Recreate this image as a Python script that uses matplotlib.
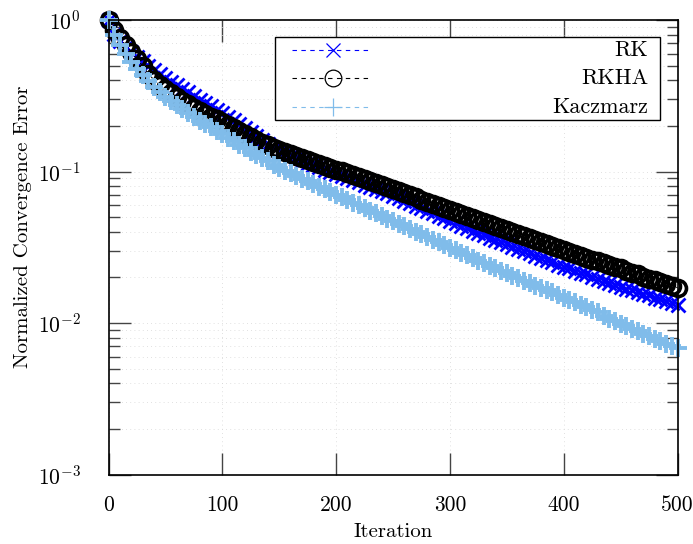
import matplotlib
matplotlib.use("Agg")
import matplotlib.pyplot as plt
from matplotlib.lines import Line2D
from matplotlib.patches import Rectangle

plt.rcParams['font.family'] = ['cmr10', 'DejaVu Serif']
plt.rcParams['mathtext.fontset'] = 'cm'
plt.rcParams['axes.formatter.use_mathtext'] = True

# ---- data (values read at every 5th iteration) ----
iterations = list(range(0, 501, 5))

rk = [1.0, 0.809, 0.727, 0.664, 0.615, 0.570, 0.537, 0.498, 0.468, 0.441,
      0.415, 0.390, 0.373, 0.351, 0.335, 0.316, 0.297, 0.284, 0.271, 0.255,
      0.244, 0.229, 0.219, 0.206, 0.194, 0.183, 0.172, 0.162, 0.152, 0.143,
      0.135, 0.131, 0.127, 0.121, 0.118, 0.114, 0.111, 0.107, 0.103, 0.0996,
      0.0966, 0.0938, 0.0910, 0.0882, 0.0856, 0.0818, 0.0793, 0.0769, 0.0747, 0.0724,
      0.0692, 0.0671, 0.0641, 0.0622, 0.0594, 0.0577, 0.0552, 0.0535, 0.0511, 0.0496,
      0.0474, 0.0460, 0.0439, 0.0426, 0.0407, 0.0395, 0.0383, 0.0366, 0.0355, 0.0344,
      0.0334, 0.0319, 0.0310, 0.0300, 0.0291, 0.0278, 0.0270, 0.0262, 0.0254, 0.0243,
      0.0236, 0.0229, 0.0222, 0.0215, 0.0209, 0.0202, 0.0196, 0.0190, 0.0184, 0.0179,
      0.0174, 0.0168, 0.0166, 0.0161, 0.0156, 0.0152, 0.0147, 0.0143, 0.0139, 0.0135,
      0.0131]

rkha = [1.0, 0.859, 0.761, 0.684, 0.615, 0.553, 0.498, 0.441, 0.402, 0.373,
        0.351, 0.330, 0.311, 0.293, 0.280, 0.263, 0.251, 0.240, 0.229, 0.223,
        0.213, 0.203, 0.194, 0.186, 0.177, 0.169, 0.162, 0.155, 0.150, 0.143,
        0.139, 0.135, 0.131, 0.127, 0.123, 0.120, 0.116, 0.112, 0.109, 0.106,
        0.103, 0.101, 0.0981, 0.0952, 0.0924, 0.0896, 0.0869, 0.0843, 0.0818, 0.0793,
        0.0769, 0.0747, 0.0724, 0.0703, 0.0682, 0.0651, 0.0632, 0.0613, 0.0594, 0.0577,
        0.0560, 0.0543, 0.0527, 0.0511, 0.0496, 0.0481, 0.0467, 0.0453, 0.0439, 0.0426,
        0.0413, 0.0401, 0.0389, 0.0377, 0.0366, 0.0355, 0.0344, 0.0334, 0.0324, 0.0314,
        0.0305, 0.0296, 0.0287, 0.0278, 0.0270, 0.0262, 0.0258, 0.0250, 0.0243, 0.0236,
        0.0229, 0.0222, 0.0215, 0.0209, 0.0202, 0.0196, 0.0193, 0.0187, 0.0182, 0.0176,
        0.0171]

kaczmarz = [1.0, 0.796, 0.684, 0.597, 0.529, 0.475, 0.434, 0.396, 0.362, 0.335,
            0.311, 0.293, 0.275, 0.259, 0.244, 0.229, 0.216, 0.206, 0.197, 0.186,
            0.177, 0.167, 0.159, 0.150, 0.143, 0.135, 0.129, 0.123, 0.118, 0.111,
            0.106, 0.101, 0.0981, 0.0938, 0.0896, 0.0869, 0.0830, 0.0793, 0.0769, 0.0735,
            0.0703, 0.0682, 0.0651, 0.0622, 0.0603, 0.0577, 0.0552, 0.0535, 0.0511, 0.0489,
            0.0474, 0.0453, 0.0439, 0.0420, 0.0401, 0.0389, 0.0371, 0.0355, 0.0344, 0.0329,
            0.0314, 0.0305, 0.0291, 0.0283, 0.0270, 0.0258, 0.0250, 0.0239, 0.0232, 0.0222,
            0.0215, 0.0205, 0.0199, 0.0190, 0.0184, 0.0176, 0.0171, 0.0164, 0.0159, 0.0152,
            0.0147, 0.0141, 0.0137, 0.0131, 0.0127, 0.0121, 0.0118, 0.0112, 0.0107, 0.0103,
            0.00988, 0.00959, 0.00916, 0.00891, 0.00852, 0.00826, 0.00789, 0.00755, 0.00732, 0.00700,
            0.00679]

series_names = ["RK", "RKHA", "Kaczmarz"]
x_ticks = [0, 100, 200, 300, 400, 500]
x_label = "Iteration"
y_label = "Normalized Convergence Error"

# ---- styles ----
colors = ["#0000ff", "#000000", "#80bcea"]
markers = ["x", "o", "+"]
plot_ms = [9.5, 11.5, 12.5]
plot_mew = [2.0, 2.6, 2.8]
legend_ms = [9.5, 12.0, 12.5]
dash = (0, (4, 4))

fig = plt.figure(figsize=(6.93, 5.44), dpi=100)
ax = fig.add_axes([108.5 / 693, 1 - 474.5 / 544, 569 / 693, 454.5 / 544])

for ys, c, m, ms, mew in zip([rk, rkha, kaczmarz], colors, markers, plot_ms, plot_mew):
    ax.plot(iterations, ys, linestyle=dash, lw=0.8, color=c, marker=m, ms=ms, mew=mew,
            mfc="none" if m == "o" else c, clip_on=False, zorder=3)

ax.set_yscale("log")
ax.set_xlim(0, 500)
ax.set_ylim(1e-3, 1)
ax.set_xticks(x_ticks)
ax.set_xticklabels([str(t) for t in x_ticks])

ax.grid(True, axis="x", which="major", linestyle=(0, (1, 4)), color="#d6d6d6", lw=0.6)
ax.grid(True, axis="y", which="both", linestyle=(0, (1, 4)), color="#d6d6d6", lw=0.6)
ax.set_axisbelow(True)

ax.tick_params(which="major", direction="in", length=16, width=1.0, color="#444444",
               top=True, right=True, labelsize=15.5)
ax.tick_params(axis="x", which="major", pad=15)
ax.tick_params(axis="y", which="major", pad=20)
ax.tick_params(which="minor", direction="in", length=8, width=1.0, color="#444444",
               top=True, right=True)
for s in ax.spines.values():
    s.set_linewidth(1.2)
    s.set_zorder(4)

ax.set_xlabel(x_label, fontsize=15, labelpad=6)
ax.set_ylabel(y_label, fontsize=15)
ax.yaxis.set_label_coords(-0.135, 0.545)

# ---- legend (pgfplots style: handles left, labels right-aligned) ----
box_l, box_r, box_t, box_b = 0.2926, 0.9692, 0.9626, 0.7802
ax.add_patch(Rectangle((box_l, box_b), box_r - box_l, box_t - box_b, transform=ax.transAxes,
                       facecolor="white", edgecolor="black", lw=1.0, zorder=6, clip_on=False))
row_y = [0.9340, 0.8725, 0.8088]
for name, c, m, ms, yy in zip(series_names, colors, markers, legend_ms, row_y):
    ax.add_line(Line2D([0.3225, 0.4596], [yy, yy], transform=ax.transAxes, color=c,
                       linestyle=dash, lw=0.8, zorder=7, clip_on=False))
    ax.add_line(Line2D([0.3946], [yy], transform=ax.transAxes, linestyle="none",
                       marker=m, ms=ms, mew=0.9, color=c,
                       mfc="none" if m == "o" else c, zorder=8, clip_on=False))
    ax.text(0.948, yy, name, transform=ax.transAxes, ha="right", va="center",
            fontsize=16, zorder=9)

fig.savefig("out.png", dpi=100)
